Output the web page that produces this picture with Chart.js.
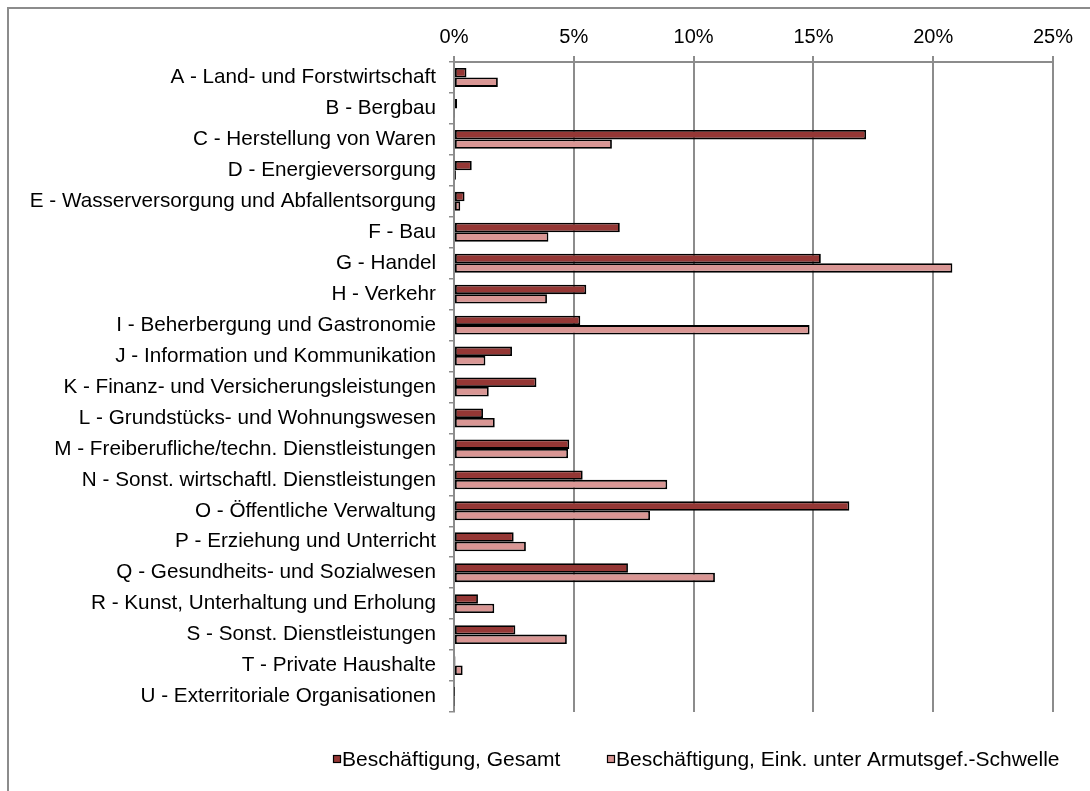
<!DOCTYPE html>
<html>
<head>
<meta charset="utf-8">
<script src="https://cdn.jsdelivr.net/npm/chart.js@4"></script>
<style>
  html, body { margin: 0; padding: 0; background: #fff; overflow: hidden; }
  #wrap { position: relative; width: 1090px; height: 791px; }
  #frame { position: absolute; left: 7px; top: 7px; width: 1200px; height: 900px;
           border: 2px solid #8c8c8c; box-sizing: border-box; }
  #sensorChart { position: absolute; left: 0; top: 0; }
</style>
</head>
<body>
<div id="wrap">
  <div id="frame"></div>
  <canvas id="sensorChart" width="1090" height="791"></canvas>
</div>
<script>
// Wirtschaftsabschnitte (ÖNACE)
const branchen = [
  'A - Land- und Forstwirtschaft',
  'B - Bergbau',
  'C - Herstellung von Waren',
  'D - Energieversorgung',
  'E - Wasserversorgung und Abfallentsorgung',
  'F - Bau',
  'G - Handel',
  'H - Verkehr',
  'I - Beherbergung und Gastronomie',
  'J - Information und Kommunikation',
  'K - Finanz- und Versicherungsleistungen',
  'L - Grundstücks- und Wohnungswesen',
  'M - Freiberufliche/techn. Dienstleistungen',
  'N - Sonst. wirtschaftl. Dienstleistungen',
  'O - Öffentliche Verwaltung',
  'P - Erziehung und Unterricht',
  'Q - Gesundheits- und Sozialwesen',
  'R - Kunst, Unterhaltung und Erholung',
  'S - Sonst. Dienstleistungen',
  'T - Private Haushalte',
  'U - Exterritoriale Organisationen'
];

// Anteile in %
const gesamt = [0.52, 0.13, 17.2, 0.74, 0.44, 6.92, 15.31, 5.52, 5.27, 2.42, 3.44,
                1.21, 4.81, 5.37, 16.5, 2.49, 7.26, 1.0, 2.56, 0.06, 0.01];
const armut  = [1.83, 0.03, 6.59, 0.08, 0.26, 3.94, 20.8, 3.88, 14.84, 1.31, 1.45,
                1.70, 4.76, 8.9, 8.18, 3.0, 10.89, 1.68, 4.71, 0.36, 0.02];

const serienNamen = ['Beschäftigung, Gesamt', 'Beschäftigung, Eink. unter Armutsgef.-Schwelle'];
const xTicks = [0, 5, 10, 15, 20, 25];

const FONT = "'Liberation Sans', Arial, sans-serif";
const GRID = '#8c8c8c';

// Legende unten, wie im Excel-Original
const legendePlugin = {
  id: 'legende',
  afterDraw(chart) {
    const c = chart.ctx;
    const xs = [333, 607];
    const y = 759;
    c.save();
    c.font = '21px ' + FONT;
    c.textBaseline = 'middle';
    c.textAlign = 'left';
    chart.data.datasets.forEach((ds, i) => {
      c.fillStyle = ds.backgroundColor;
      c.fillRect(xs[i], y - 4, 8, 8);
      c.strokeStyle = '#000';
      c.lineWidth = 1.2;
      c.strokeRect(xs[i] + 0.5, y - 3.5, 7, 7);
      c.fillStyle = '#000';
      c.fillText(ds.label, xs[i] + 9, y + 1);
    });
    c.restore();
  }
};

window.renderChart = function () {
  const ctx = document.getElementById('sensorChart');
  if (!ctx) return;

  Chart.defaults.font.family = FONT;
  Chart.defaults.color = '#000';

  new Chart(ctx, {
    type: 'bar',
    data: {
      labels: branchen,
      datasets: [
        {
          label: serienNamen[0],
          data: gesamt,
          backgroundColor: '#953735',
          borderColor: '#000',
          borderWidth: 1.8,
          borderSkipped: false
        },
        {
          label: serienNamen[1],
          data: armut,
          backgroundColor: '#d99694',
          borderColor: '#000',
          borderWidth: 1.8,
          borderSkipped: false
        }
      ]
    },
    options: {
      indexAxis: 'y',
      responsive: false,
      animation: false,
      categoryPercentage: 0.61,
      barPercentage: 1,
      layout: { padding: { top: 0, left: 0, right: 37, bottom: 79 } },
      plugins: {
        legend: { display: false },
        tooltip: { enabled: false }
      },
      scales: {
        x: {
          position: 'top',
          min: 0,
          max: 25,
          afterFit: s => { s.height = 62; },
          afterBuildTicks: s => { s.ticks = xTicks.map(v => ({ value: v })); },
          grid: { color: GRID, lineWidth: 2, tickLength: 6, drawTicks: true },
          border: { color: GRID, width: 2 },
          ticks: {
            padding: 7,
            font: { size: 20 },
            callback: v => v + '%'
          }
        },
        y: {
          afterFit: s => { s.width = 454; },
          grid: { drawOnChartArea: false, color: GRID, lineWidth: 1.5, tickLength: 5, offset: true },
          border: { color: GRID, width: 2 },
          ticks: { padding: 13, font: { size: 20.7 }, autoSkip: false }
        }
      }
    },
    plugins: [legendePlugin]
  });
};

document.addEventListener('DOMContentLoaded', () => window.renderChart());
</script>
</body>
</html>
